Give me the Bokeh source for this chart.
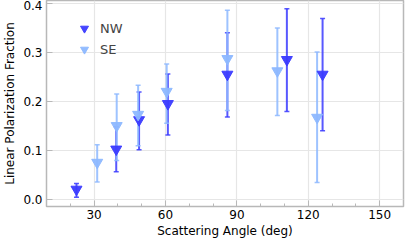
from bokeh.plotting import figure
from bokeh.models import Whisker, ColumnDataSource, Legend, LegendItem, FixedTicker, TeeHead, Range1d
from bokeh.embed import file_html
from bokeh.resources import INLINE

nw_angle = [22.6, 39.3, 48.9, 61.0, 86.0, 111.0, 126.0]
nw_frac = [0.021, 0.103, 0.163, 0.196, 0.256, 0.286, 0.256]
nw_low = [0.005, 0.057, 0.102, 0.132, 0.169, 0.180, 0.141]
nw_high = [0.033, 0.149, 0.220, 0.257, 0.341, 0.390, 0.370]

se_angle = [31.3, 39.5, 48.5, 60.5, 86.0, 107.0, 123.7]
se_frac = [0.076, 0.151, 0.174, 0.221, 0.288, 0.263, 0.168]
se_low = [0.036, 0.080, 0.110, 0.156, 0.182, 0.172, 0.035]
se_high = [0.112, 0.216, 0.234, 0.277, 0.387, 0.351, 0.302]

x_ticks = [30, 60, 90, 120, 150]
x_minor = [20, 40, 50, 70, 80, 100, 110, 130, 140, 160]
y_ticks = [0.0, 0.1, 0.2, 0.3, 0.4]

NW_COLOR = "#3b3bff"
SE_COLOR = "#8db8ff"
FONT = "DejaVu Sans"

p = figure(frame_width=357, frame_height=206, output_backend="svg", toolbar_location=None,
           x_range=Range1d(10, 160), y_range=Range1d(-0.014, 0.407),
           min_border_left=41, min_border_right=2, min_border_top=0, min_border_bottom=0)

p.outline_line_color = "#b8b8b8"
p.outline_line_width = 1.5
p.background_fill_color = "white"
p.border_fill_color = "white"

for ax in (p.xaxis[0], p.yaxis[0]):
    ax.axis_line_color = "#b8b8b8"
    ax.major_tick_line_color = "#b8b8b8"
    ax.minor_tick_line_color = "#b8b8b8"
    ax.major_tick_in = 6
    ax.major_tick_out = 0
    ax.minor_tick_in = 3
    ax.minor_tick_out = 0
    ax.major_label_text_font = FONT
    ax.major_label_text_font_size = "12px"
    ax.major_label_text_color = "black"
    ax.axis_label_text_font = FONT
    ax.axis_label_text_font_size = "12px"
    ax.axis_label_text_font_style = "normal"
    ax.axis_label_text_color = "black"

p.xaxis.ticker = FixedTicker(ticks=x_ticks, minor_ticks=x_minor)
p.yaxis.ticker = FixedTicker(ticks=y_ticks, minor_ticks=[])
p.yaxis.major_label_overrides = {t: f"{t:.1f}" for t in y_ticks}
p.xaxis.axis_label = "Scattering Angle (deg)"
p.yaxis.axis_label = "Linear Polarization Fraction"
p.xaxis.axis_label_standoff = 2
p.yaxis.axis_label_standoff = 3
p.xaxis.major_label_standoff = 3
p.yaxis.major_label_standoff = 4

p.xgrid.grid_line_color = "#e6e6e6"
p.ygrid.grid_line_color = "#e6e6e6"
p.xgrid.grid_line_width = 1.2
p.ygrid.grid_line_width = 1.2

nw_src = ColumnDataSource(dict(x=nw_angle, y=nw_frac, lo=nw_low, hi=nw_high))
se_src = ColumnDataSource(dict(x=se_angle, y=se_frac, lo=se_low, hi=se_high))

items = []
for src, col, name in ((nw_src, NW_COLOR, "NW"), (se_src, SE_COLOR, "SE")):
    w = Whisker(source=src, base="x", lower="lo", upper="hi",
                line_color=col, line_width=2, line_alpha=0.85,
                lower_head=TeeHead(size=5, line_color=col, line_width=1.5, line_alpha=0.85),
                upper_head=TeeHead(size=5, line_color=col, line_width=1.5, line_alpha=0.85))
    p.add_layout(w)
    r = p.scatter("x", "y", source=src, marker="inverted_triangle", size=11,
                  fill_color=col, line_color=col, fill_alpha=0.95, line_alpha=0.95)
    items.append(LegendItem(label=name, renderers=[r]))

legend = Legend(items=items, location=(28, 147), border_line_color=None,
                background_fill_alpha=0, label_text_font=FONT,
                label_text_font_size="13px", glyph_width=20, glyph_height=20,
                spacing=1, label_standoff=6, padding=0, margin=0)
p.add_layout(legend, "center")

open("out.html", "w").write(file_html(p, INLINE))
